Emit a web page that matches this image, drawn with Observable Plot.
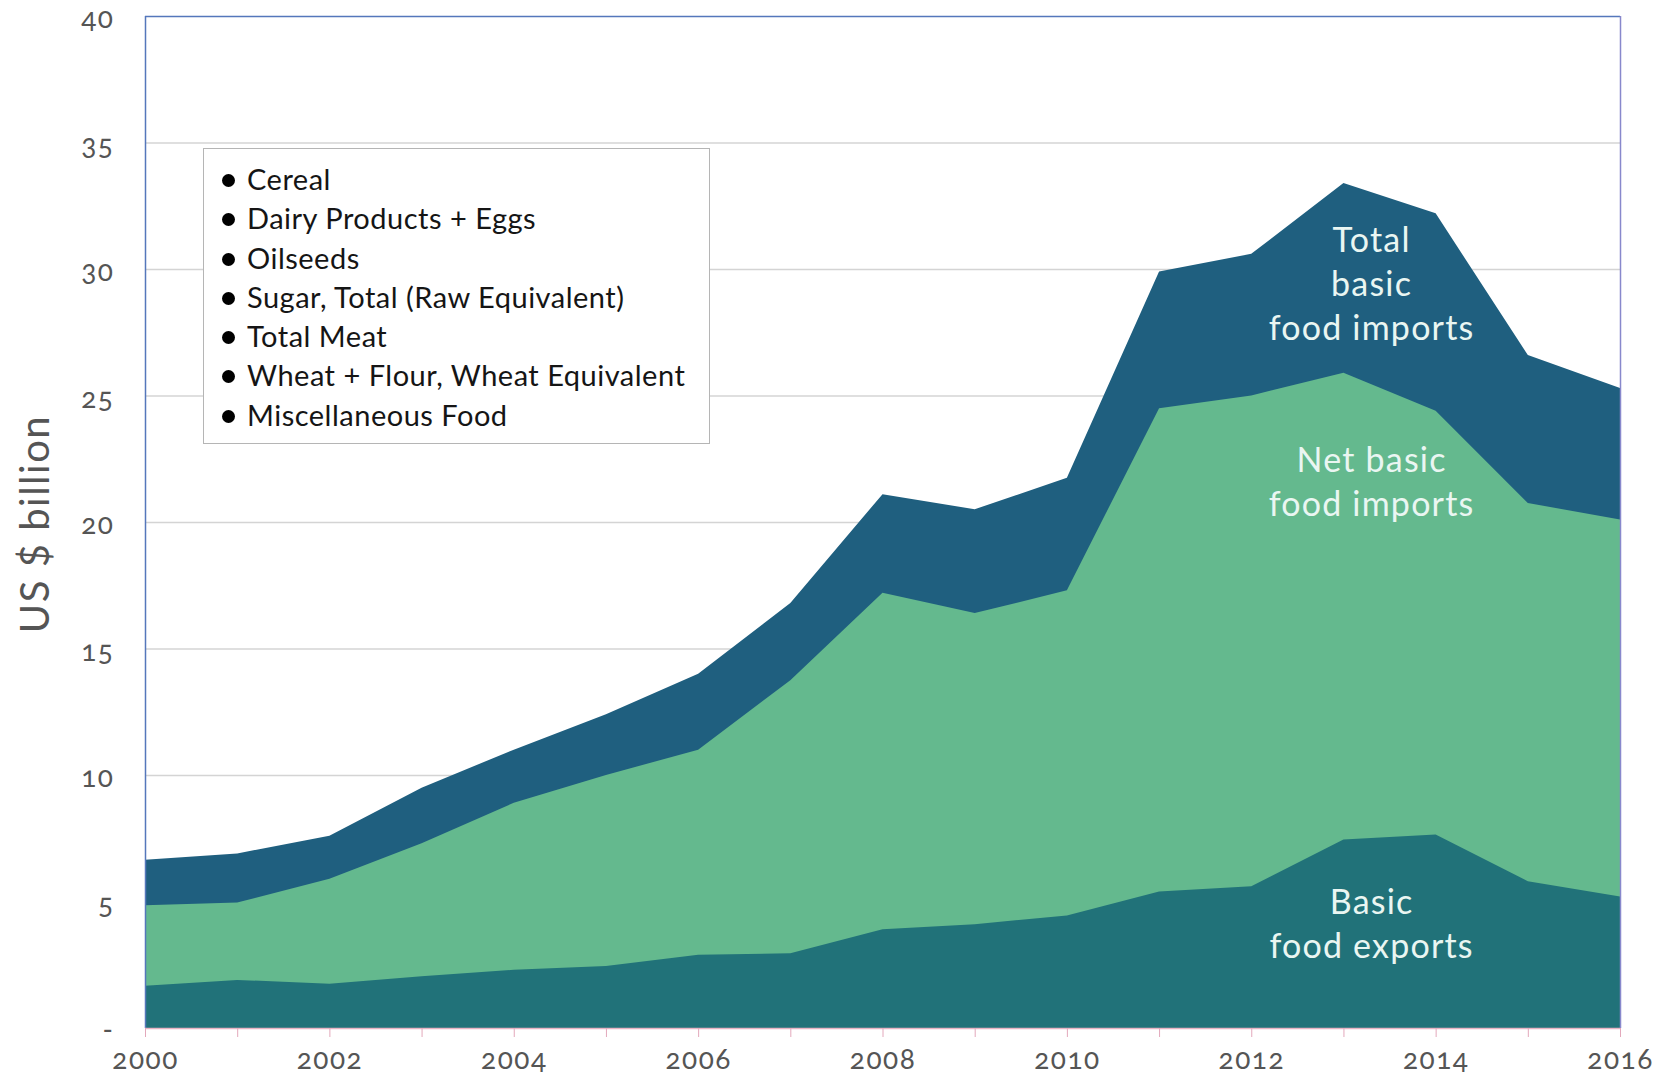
<!DOCTYPE html>
<html>
<head>
<meta charset="utf-8">
<script src="https://cdn.jsdelivr.net/npm/d3@7"></script>
<script src="https://cdn.jsdelivr.net/npm/@observablehq/plot@0.6"></script>
<style>
  html, body { margin: 0; padding: 0; background: #fff; }
  #wrap { position: relative; width: 1653px; height: 1078px; font-family: Lato, "Open Sans", sans-serif; }
  #wrap svg { overflow: visible; }
  #wrap svg text { font-variant-numeric: oldstyle-nums; }
  #wrap svg g[aria-label="x-axis tick label"] text, #wrap svg g[aria-label="y-axis tick label"] text { letter-spacing: 1.5px; }
  #legend {
    position: absolute; left: 203px; top: 148px; width: 507px; height: 296px;
    border: 1.5px solid #b5b5b5; background: #fff; box-sizing: border-box;
    padding-top: 10px; padding-left: 18px;
  }
  #legend div { font-size: 29px; line-height: 39.3px; color: #151515; white-space: nowrap; letter-spacing: 0.5px; }
  #legend span.dot { display: inline-block; width: 13px; height: 13px; border-radius: 50%; background: #000; margin-right: 12px; vertical-align: 3px; }
  #ytitle {
    position: absolute; left: 34px; top: 524px; transform: translate(-50%, -50%) rotate(-90deg);
    font-size: 40px; color: #555; white-space: nowrap; letter-spacing: 1.5px;
  }
</style>
</head>
<body>
<div id="wrap"></div>
<script>
const years = [2000,2001,2002,2003,2004,2005,2006,2007,2008,2009,2010,2011,2012,2013,2014,2015,2016];
const totalImports = [6.65,6.9,7.6,9.5,11.0,12.4,14.0,16.8,21.1,20.5,21.75,29.9,30.6,33.4,32.2,26.6,25.3];
const netImports   = [4.85,4.96,5.9,7.3,8.9,10.0,11.0,13.75,17.2,16.4,17.3,24.5,25.0,25.9,24.4,20.75,20.1];
const foodExports  = [1.67,1.9,1.75,2.05,2.3,2.45,2.9,2.95,3.9,4.1,4.45,5.4,5.6,7.45,7.65,5.8,5.2];
const yTicks = [0,5,10,15,20,25,30,35,40];
const legendItems = ["Cereal","Dairy Products + Eggs","Oilseeds","Sugar, Total (Raw Equivalent)","Total Meat","Wheat + Flour, Wheat Equivalent","Miscellaneous Food"];
const areaLabels = [
  {x: 2013.3, y: 29.5, text: "Total\nbasic\nfood imports"},
  {x: 2013.3, y: 21.7, text: "Net basic\nfood imports"},
  {x: 2013.3, y: 4.2, text: "Basic\nfood exports"}
];

const rows = years.map((year, i) => ({year, total: totalImports[i], net: netImports[i], exp: foodExports[i]}));

const chart = Plot.plot({
  width: 1653,
  height: 1078,
  marginLeft: 145,
  marginRight: 33,
  marginTop: 16,
  marginBottom: 50,
  style: {fontFamily: "Lato, 'Open Sans', sans-serif", fontSize: "28px", color: "#555", background: "#fff"},
  x: {domain: [2000, 2016], label: null},
  y: {domain: [0, 40], label: null},
  marks: [
    Plot.ruleY(yTicks.filter(d => d > 0 && d < 40), {stroke: "#d4d4d4", strokeWidth: 1.5}),
    Plot.areaY(rows, {x: "year", y: "total", fill: "#1f5f7f"}),
    Plot.areaY(rows, {x: "year", y: "net", fill: "#64b98e"}),
    Plot.areaY(rows, {x: "year", y: "exp", fill: "#217279"}),
    Plot.ruleY([40], {stroke: "#5577bb", strokeWidth: 1.5}),
    Plot.ruleX([2000], {stroke: "#5577bb", strokeWidth: 1.5}),
    Plot.ruleX([2016], {stroke: "#8888cc", strokeWidth: 1.5}),
    Plot.ruleY([0], {stroke: "#e8b4c4", strokeWidth: 1.5}),
    Plot.axisX({ticks: years, tickSize: 9, tickPadding: 12, stroke: "#e3a8bb", tickFormat: d => d % 2 === 0 ? String(d) : "", fill: "#555", fontSize: 28}),
    Plot.axisY({ticks: yTicks, tickSize: 0, tickPadding: 31, dy: 3, tickFormat: d => d === 0 ? "-" : String(d), fill: "#555", fontSize: 28}),
    Plot.text(areaLabels, {x: "x", y: "y", text: "text", fill: "#eaf6f2", fontSize: 34, lineHeight: 1.3, textAnchor: "middle", fontFamily: "Lato, 'Open Sans', sans-serif"})
  ]
});

const wrap = document.getElementById("wrap");
wrap.appendChild(chart);
chart.querySelectorAll('g[aria-label="text"] text').forEach(t => t.style.letterSpacing = "1.2px");

const legend = document.createElement("div");
legend.id = "legend";
legendItems.forEach(t => {
  const d = document.createElement("div");
  const dot = document.createElement("span");
  dot.className = "dot";
  d.appendChild(dot);
  d.appendChild(document.createTextNode(t));
  legend.appendChild(d);
});
wrap.appendChild(legend);

const yt = document.createElement("div");
yt.id = "ytitle";
yt.textContent = "US $ billion";
wrap.appendChild(yt);
</script>
</body>
</html>
